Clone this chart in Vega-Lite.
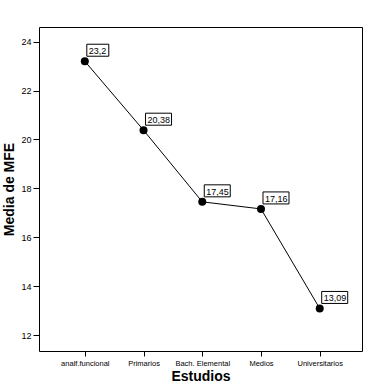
{
  "$schema": "https://vega.github.io/schema/vega-lite/v6.json",
  "autosize": "none",
  "width": 323,
  "height": 324,
  "padding": {"left": 39, "top": 27, "right": 8, "bottom": 39},
  "background": "white",
  "config": {
    "view": {"stroke": "black", "strokeWidth": 1},
    "font": "Liberation Sans"
  },
  "data": {
    "values": [
      {"estudios": "analf.funcional", "media": 23.2, "etiqueta": "23,2"},
      {"estudios": "Primarios", "media": 20.38, "etiqueta": "20,38"},
      {"estudios": "Bach. Elemental", "media": 17.45, "etiqueta": "17,45"},
      {"estudios": "Medios", "media": 17.16, "etiqueta": "17,16"},
      {"estudios": "Universitarios", "media": 13.09, "etiqueta": "13,09"}
    ]
  },
  "encoding": {
    "x": {
      "field": "estudios", "type": "ordinal", "sort": null,
      "scale": {"type": "point", "padding": 0.75, "align": 0.52},
      "axis": {
        "title": "Estudios", "titleFontSize": 14, "titleFontWeight": "bold", "titleColor": "black", "titlePadding": 3,
        "labelAngle": 0, "labelFontSize": 7.5, "labelColor": "black", "labelPadding": 3,
        "tickColor": "black", "tickSize": 5, "domain": false, "grid": false
      }
    },
    "y": {
      "field": "media", "type": "quantitative",
      "scale": {"domain": [11.35, 24.6], "nice": false, "zero": false},
      "axis": {
        "title": "Media de MFE", "titleFontSize": 14, "titleFontWeight": "bold", "titleColor": "black", "titlePadding": 4,
        "values": [12, 14, 16, 18, 20, 22, 24],
        "labelFontSize": 9, "labelColor": "black", "labelPadding": 2,
        "tickColor": "black", "tickSize": 6, "domain": false, "grid": false
      }
    }
  },
  "layer": [
    {"mark": {"type": "line", "color": "black", "strokeWidth": 1}},
    {"mark": {"type": "point", "filled": true, "color": "black", "size": 64, "opacity": 1}},
    {"mark": {"type": "point", "size": 4, "filled": true, "fill": "white", "stroke": "black", "strokeWidth": 1, "opacity": 1},
     "encoding": {"shape": {"condition": {"test": "length(datum.etiqueta) < 5", "value": "M2,-17H24V-5H2Z"}, "value": "M2,-17H28V-5H2Z"}}},
    {"mark": {"type": "text", "align": "left", "baseline": "alphabetic", "dx": 4, "dy": -7, "fontSize": 9, "color": "black"},
     "encoding": {"text": {"field": "etiqueta"}}}
  ]
}
